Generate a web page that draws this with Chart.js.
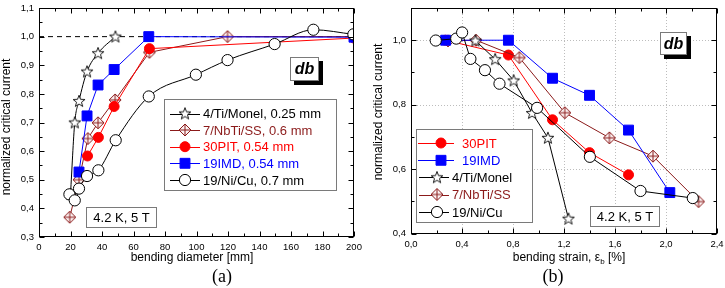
<!DOCTYPE html>
<html><head><meta charset="utf-8">
<script src="https://cdn.jsdelivr.net/npm/chart.js@4.4.0/dist/chart.umd.min.js"></script>
<style>
html,body{margin:0;padding:0;background:#fff;width:725px;height:288px;overflow:hidden}
#wa{position:absolute;left:0;top:0;width:362px;height:288px}
#wb{position:absolute;left:363px;top:0;width:362px;height:288px}
</style></head><body>
<div id="wa"><canvas id="ca" width="362" height="288"></canvas></div>
<div id="wb"><canvas id="cb" width="362" height="288"></canvas></div>
<script>
// ---------- DATA ----------
// Panel (a): normalized Ic vs bending diameter [mm]
const seriesA = ['4/Ti/Monel, 0.25 mm', '7/NbTi/SS, 0.6 mm', '30PIT, 0.54 mm', '19IMD, 0.54 mm', '19/Ni/Cu, 0.7 mm'];
const monelD = [20, 22.7, 25.4, 30.5, 37.5, 48.5];
const monelA = [0.45, 0.70, 0.775, 0.878, 0.942, 1.0];
const nbtiD = [19.5, 25.4, 31, 37.5, 48.3, 70.1, 119.7, 200];
const nbtiA = [0.369, 0.50, 0.644, 0.699, 0.779, 0.945, 1.0, 1.0];
const pitD = [30.8, 37.7, 47.7, 70.1, 200];
const pitA = [0.583, 0.648, 0.756, 0.958, 0.995];
const imdD = [25.4, 30.5, 37.5, 47.7, 69.7, 200];
const imdA = [0.527, 0.723, 0.831, 0.885, 1.0, 0.998];
const nicuD = [19.3, 22.7, 25.4, 30.5, 37.7, 48.7, 69.7, 99.6, 119.7, 149.6, 174.2, 199.6];
const nicuA = [0.449, 0.428, 0.469, 0.513, 0.533, 0.638, 0.791, 0.867, 0.918, 0.974, 1.024, 1.008];
const refD = [0, 200];
const refA = [1, 1];
const xTicksA = [0, 200, 20];      // min, max, step
const yTicksA = [0.3, 1.1, 0.1];

// Panel (b): normalized Ic vs bending strain [%]
const seriesB = ['30PIT', '19IMD', '4/Ti/Monel', '7/NbTi/SS', '19/Ni/Cu'];
const pitS = [0.27, 0.764, 1.11, 1.40, 1.706];
const pitB = [1.0, 0.954, 0.753, 0.651, 0.582];
const imdS = [0.272, 0.764, 1.11, 1.40, 1.706, 2.03];
const imdB = [1.0, 1.0, 0.882, 0.829, 0.721, 0.527];
const monelS = [0.505, 0.66, 0.805, 0.95, 1.074, 1.235];
const monelB = [0.999, 0.941, 0.875, 0.774, 0.697, 0.446];
const nbtiS = [0.29, 0.51, 0.85, 1.206, 1.556, 1.898, 2.255];
const nbtiB = [0.998, 1.0, 0.946, 0.775, 0.697, 0.64, 0.499];
const nicuS = [0.194, 0.355, 0.401, 0.466, 0.58, 0.694, 0.989, 1.403, 1.80, 2.21];
const nicuB = [0.999, 1.005, 1.024, 0.942, 0.907, 0.865, 0.79, 0.638, 0.532, 0.51];
const xTicksB = [0, 2.4, 0.4];
const yTicksB = [0.4, 1.1, 0.2];

const condText = '4.2 K, 5 T';
const tagText = 'db';
const yTitle = 'normalized critical current';
const xTitleA = 'bending diameter [mm]';
const xTitleB = ['bending strain, \u03B5', 'b', ' [%]'];
const panelA = '(a)', panelB = '(b)';

// ---------- STYLE ----------
const FONT = "'Liberation Sans', Arial, Helvetica, sans-serif";
const SERIF = "'Liberation Serif', 'Times New Roman', serif";
const BLACK = '#000000', WINE = '#8b1a1a', RED = '#ff0000', BLUE = '#0000ff';

function starImg() {
  const c = document.createElement('canvas'); c.width = c.height = 14;
  const g = c.getContext('2d'); const cx = 7, cy = 7.4, R = 6.2, r = 2.6;
  g.beginPath();
  for (let i = 0; i < 10; i++) {
    const a = -Math.PI / 2 + i * Math.PI / 5, rr = i % 2 ? r : R;
    g.lineTo(cx + rr * Math.cos(a), cy + rr * Math.sin(a));
  }
  g.closePath(); g.fillStyle = '#fff'; g.fill();
  g.strokeStyle = '#000'; g.lineWidth = 0.9; g.stroke();
  return c;
}
function diamondImg() {
  const c = document.createElement('canvas'); c.width = c.height = 14;
  const g = c.getContext('2d'); const m = 7, r = 6;
  g.beginPath(); g.moveTo(m, m - r); g.lineTo(m + r, m); g.lineTo(m, m + r); g.lineTo(m - r, m); g.closePath();
  g.fillStyle = '#fbf2f2'; g.fill();
  g.strokeStyle = WINE; g.lineWidth = 1; g.stroke();
  g.beginPath(); g.moveTo(m, m - r); g.lineTo(m, m + r); g.moveTo(m - r, m); g.lineTo(m + r, m); g.stroke();
  return c;
}
const STAR = starImg(), DIAM = diamondImg();

const MARK = {
  star: { pointStyle: STAR, pointRadius: 6 },
  diamond: { pointStyle: DIAM, pointRadius: 6 },
  dot: { pointStyle: 'circle', pointRadius: 5, pointBackgroundColor: RED, pointBorderColor: RED },
  square: { pointStyle: 'rect', pointRadius: 7, pointBackgroundColor: BLUE, pointBorderColor: BLUE },
  open: { pointStyle: 'circle', pointRadius: 5.6, pointBackgroundColor: '#fff', pointBorderColor: BLACK, pointBorderWidth: 1 }
};

function pts(xs, ys) { return xs.map((x, i) => ({ x: x, y: ys[i] })); }
function ds(label, xs, ys, color, mark, order, extra) {
  return Object.assign({
    label: label, data: pts(xs, ys), borderColor: color, borderWidth: 1, fill: false,
    tension: 0, order: order, clip: 0, pointHoverRadius: 0
  }, MARK[mark], extra || {});
}

function fmt1(v) { return (Math.round(v * 10) / 10).toFixed(1).replace('.', ','); }

function baseOptions(c) {
  return {
    responsive: false, animation: false, devicePixelRatio: 1, events: [],
    layout: { padding: { top: c.padTop, right: c.padRight, left: 0, bottom: 0 } },
    plugins: { legend: { display: false }, tooltip: { enabled: false } },
    scales: {
      x: {
        type: 'linear', min: c.xt[0], max: c.xt[1],
        grid: { display: false, drawTicks: false }, border: { display: false },
        ticks: { stepSize: c.xt[2], autoSkip: false, maxRotation: 0, includeBounds: false, padding: 5, color: '#000',
          font: { family: FONT, size: 9.5 }, callback: c.xfmt },
        afterFit(s) { s.height = c.xh; s.paddingLeft = 0; s.paddingRight = 0; }
      },
      y: {
        type: 'linear', min: c.yt[0], max: c.yt[1],
        grid: { display: false, drawTicks: false }, border: { display: false },
        ticks: { stepSize: c.yt[2], autoSkip: false, includeBounds: false, padding: 5, color: '#000',
          font: { family: FONT, size: 9.5 }, callback: (v) => fmt1(v) },
        afterFit(s) { s.width = c.yw; s.paddingTop = 0; s.paddingBottom = 0; }
      }
    }
  };
}

function steps(min, max, step) {
  const out = []; const n = Math.round((max - min) / step);
  for (let k = 0; k <= n; k++) out.push(min + k * step);
  return out;
}

function framePlugin(xMaj, xMin, yMaj, yMin, grid) {
  return {
    id: 'frame',
    beforeDatasetsDraw(chart) {
      if (!grid) return;
      const { ctx, chartArea: a, scales: { x, y } } = chart;
      ctx.save(); ctx.strokeStyle = '#bdbdbd'; ctx.lineWidth = 1; ctx.setLineDash([1, 2]);
      steps(x.min, x.max, xMaj).forEach(v => {
        const p = Math.round(x.getPixelForValue(v)) + 0.5;
        if (p < a.left + 2 || p > a.right - 2) return;
        ctx.beginPath(); ctx.moveTo(p, a.top); ctx.lineTo(p, a.bottom); ctx.stroke();
      });
      steps(y.min, y.max, yMaj).forEach(v => {
        const p = Math.round(y.getPixelForValue(v)) + 0.5;
        if (p < a.top + 2 || p > a.bottom - 2) return;
        ctx.beginPath(); ctx.moveTo(a.left, p); ctx.lineTo(a.right, p); ctx.stroke();
      });
      ctx.restore();
    },
    afterDatasetsDraw(chart) {
      const { ctx, chartArea: a, scales: { x, y } } = chart;
      ctx.save(); ctx.strokeStyle = '#000'; ctx.lineWidth = 1; ctx.setLineDash([]);
      const L = Math.round(a.left) + 0.5, R = Math.round(a.right) - 0.5, T = Math.round(a.top) + 0.5, B = Math.round(a.bottom) - 0.5;
      ctx.strokeRect(L, T, R - L, B - T);
      const isMaj = (v, min, st) => Math.abs((v - min) / st - Math.round((v - min) / st)) < 1e-6;
      steps(x.min, x.max, xMin).forEach(v => {
        const len = isMaj(v, x.min, xMaj) ? 5 : 3;
        const p = Math.round(x.getPixelForValue(v)) + 0.5;
        ctx.beginPath(); ctx.moveTo(p, B); ctx.lineTo(p, B - len); ctx.moveTo(p, T); ctx.lineTo(p, T + len); ctx.stroke();
      });
      steps(y.min, y.max, yMin).forEach(v => {
        const len = isMaj(v, y.min, yMaj) ? 5 : 3;
        const p = Math.round(y.getPixelForValue(v)) + 0.5;
        ctx.beginPath(); ctx.moveTo(L, p); ctx.lineTo(L + len, p); ctx.moveTo(R, p); ctx.lineTo(R - len, p); ctx.stroke();
      });
      ctx.restore();
    }
  };
}

function drawMarker(ctx, mark, x, y) {
  const m = MARK[mark];
  if (m.pointStyle === STAR || m.pointStyle === DIAM) {
    ctx.drawImage(m.pointStyle, x - 7, y - 7); return;
  }
  ctx.save(); ctx.lineWidth = 1;
  ctx.fillStyle = m.pointBackgroundColor; ctx.strokeStyle = m.pointBorderColor;
  ctx.beginPath();
  if (m.pointStyle === 'rect') { const h = m.pointRadius * Math.SQRT1_2; ctx.rect(x - h, y - h, 2 * h, 2 * h); }
  else ctx.arc(x, y, m.pointRadius, 0, Math.PI * 2);
  ctx.fill(); ctx.stroke(); ctx.restore();
}

function drawBox(ctx, x1, y1, x2, y2, text, font, shadow) {
  ctx.save();
  if (shadow) { ctx.fillStyle = '#000'; ctx.fillRect(x1 + 4, y1 + 4, x2 - x1, y2 - y1); }
  ctx.fillStyle = '#fff'; ctx.fillRect(x1, y1, x2 - x1, y2 - y1);
  ctx.strokeStyle = '#7a7a7a'; ctx.lineWidth = 1; ctx.strokeRect(x1 + 0.5, y1 + 0.5, x2 - x1 - 1, y2 - y1 - 1);
  if (text) {
    ctx.fillStyle = '#000'; ctx.font = font; ctx.textAlign = 'center'; ctx.textBaseline = 'middle';
    ctx.fillText(text, (x1 + x2) / 2, (y1 + y2) / 2 + 1);
  }
  ctx.restore();
}

function legendPlugin(box, rows) {
  return {
    id: 'legendBox',
    afterDraw(chart) {
      const ctx = chart.ctx;
      drawBox(ctx, box[0], box[1], box[2], box[3], null);
      ctx.save(); ctx.font = '13px ' + FONT; ctx.textBaseline = 'middle'; ctx.textAlign = 'left';
      rows.forEach(r => {
        ctx.strokeStyle = r.color; ctx.lineWidth = 1; ctx.beginPath();
        ctx.moveTo(r.l1, Math.round(r.y) + 0.5); ctx.lineTo(r.l2, Math.round(r.y) + 0.5); ctx.stroke();
        drawMarker(ctx, r.mark, r.mx, r.y);
        ctx.fillStyle = r.color; ctx.fillText(r.label, r.tx, r.y + 1);
      });
      ctx.restore();
    }
  };
}

function labelsPlugin(draw) { return { id: 'labels', afterDraw(chart) { draw(chart.ctx); } }; }

// ---------- PANEL A ----------
const optA = baseOptions({ padTop: 4, padRight: 8, xh: 51, yw: 39, xt: xTicksA, yt: yTicksA, xfmt: (v) => String(Math.round(v)) });
new Chart(document.getElementById('ca'), {
  type: 'line',
  data: {
    datasets: [
      ds(seriesA[4], nicuD, nicuA, BLACK, 'open', 0, { cubicInterpolationMode: 'monotone' }),
      ds(seriesA[0], monelD, monelA, BLACK, 'star', 1, { cubicInterpolationMode: 'monotone' }),
      ds(seriesA[3], imdD, imdA, BLUE, 'square', 2),
      ds(seriesA[2], pitD, pitA, RED, 'dot', 3),
      ds(seriesA[1], nbtiD, nbtiA, WINE, 'diamond', 4),
      { label: 'ref', data: pts(refD, refA), borderColor: BLACK, borderWidth: 1, borderDash: [5, 4], pointRadius: 0, order: 10, clip: 0 }
    ]
  },
  options: optA,
  plugins: [
    framePlugin(20, 10, 0.1, 0.05, false),
    legendPlugin([164, 99, 337, 191], [
      { label: seriesA[0], color: BLACK, mark: 'star', y: 113.5 },
      { label: seriesA[1], color: WINE, mark: 'diamond', y: 130 },
      { label: seriesA[2], color: RED, mark: 'dot', y: 146.7 },
      { label: seriesA[3], color: BLUE, mark: 'square', y: 163.3 },
      { label: seriesA[4], color: BLACK, mark: 'open', y: 180 }
    ].map(r => Object.assign(r, { l1: 170, l2: 200, mx: 185, tx: 203 }))),
    labelsPlugin(ctx => {
      drawBox(ctx, 290, 57, 319, 81, tagText, 'italic bold 16px ' + FONT, true);
      drawBox(ctx, 86, 207, 157, 228, condText, '13px ' + FONT, false);
      ctx.save(); ctx.fillStyle = '#000'; ctx.textAlign = 'center'; ctx.textBaseline = 'middle';
      ctx.font = '12px ' + FONT; ctx.fillText(xTitleA, 192, 258);
      ctx.translate(7, 127); ctx.rotate(-Math.PI / 2); ctx.fillText(yTitle, 0, 0);
      ctx.restore();
      ctx.save(); ctx.fillStyle = '#000'; ctx.textAlign = 'center'; ctx.textBaseline = 'middle';
      ctx.font = '18px ' + SERIF; ctx.fillText(panelA, 222, 277); ctx.restore();
    })
  ]
});

// ---------- PANEL B ----------
const optB = baseOptions({ padTop: 6, padRight: 5, xh: 54.5, yw: 48, xt: xTicksB, yt: yTicksB, xfmt: (v) => fmt1(v) });
new Chart(document.getElementById('cb'), {
  type: 'line',
  data: {
    datasets: [
      ds(seriesB[4], nicuS, nicuB, BLACK, 'open', 0),
      ds(seriesB[2], monelS, monelB, BLACK, 'star', 1),
      ds(seriesB[1], imdS, imdB, BLUE, 'square', 2),
      ds(seriesB[3], nbtiS, nbtiB, WINE, 'diamond', 3),
      ds(seriesB[0], pitS, pitB, RED, 'dot', 4)
    ]
  },
  options: optB,
  plugins: [
    framePlugin(0.4, 0.2, 0.2, 0.1, true),
    legendPlugin([53, 129, 170, 223], [
      { label: seriesB[0], color: RED, mark: 'dot', y: 143, l1: 55, l2: 91, mx: 78, tx: 99 },
      { label: seriesB[1], color: BLUE, mark: 'square', y: 160.3, l1: 55, l2: 91, mx: 78, tx: 99 },
      { label: seriesB[2], color: BLACK, mark: 'star', y: 177.3, l1: 56, l2: 86, mx: 74, tx: 89 },
      { label: seriesB[3], color: WINE, mark: 'diamond', y: 194.5, l1: 56, l2: 86, mx: 74, tx: 89 },
      { label: seriesB[4], color: BLACK, mark: 'open', y: 212, l1: 56, l2: 86, mx: 74, tx: 89 }
    ]),
    labelsPlugin(ctx => {
      drawBox(ctx, 297, 32, 324, 55, tagText, 'italic bold 16px ' + FONT, true);
      drawBox(ctx, 227, 206, 297, 227, condText, '13px ' + FONT, false);
      ctx.save(); ctx.fillStyle = '#000'; ctx.textBaseline = 'middle';
      ctx.font = '12px ' + FONT;
      const w0 = ctx.measureText(xTitleB[0]).width, w2 = ctx.measureText(xTitleB[2]).width;
      ctx.font = '8px ' + FONT; const w1 = ctx.measureText(xTitleB[1]).width;
      let sx = 206 - (w0 + w1 + w2) / 2;
      ctx.textAlign = 'left';
      ctx.font = '12px ' + FONT; ctx.fillText(xTitleB[0], sx, 258);
      ctx.font = '8px ' + FONT; ctx.fillText(xTitleB[1], sx + w0, 262);
      ctx.font = '12px ' + FONT; ctx.fillText(xTitleB[2], sx + w0 + w1, 258);
      ctx.textAlign = 'center';
      ctx.translate(16, 112); ctx.rotate(-Math.PI / 2); ctx.fillText(yTitle, 0, 0);
      ctx.restore();
      ctx.save(); ctx.fillStyle = '#000'; ctx.textAlign = 'center'; ctx.textBaseline = 'middle';
      ctx.font = '18px ' + SERIF; ctx.fillText(panelB, 190, 277); ctx.restore();
    })
  ]
});
</script>
</body></html>
